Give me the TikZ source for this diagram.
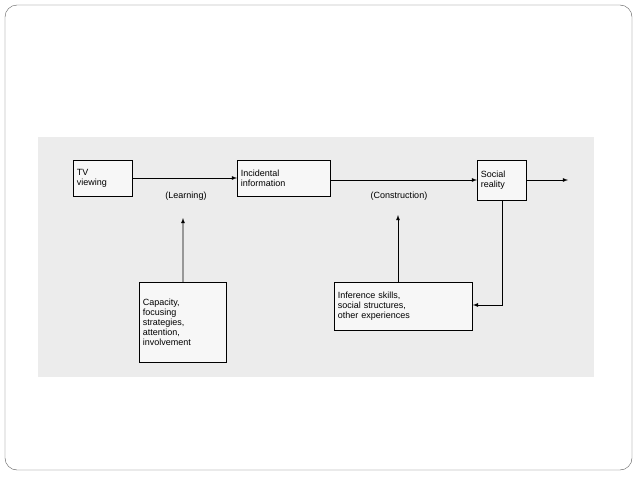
\documentclass[tikz,border=0pt]{standalone}
\usepackage{fontspec}
\setmainfont{Liberation Sans}
\usetikzlibrary{positioning}
\begin{document}
\begin{tikzpicture}[x=1pt,y=-1pt]
% Styles
\tikzstyle{fleche}=[->,>=latex,thick]
\tikzstyle{boite}=[draw,thick,fill=white!70!gray!20,align=left,font=\fontsize{9}{10}\selectfont,inner sep=3pt]
\tikzstyle{etiq}=[font=\fontsize{9}{10}\selectfont]
% Cadre
\useasboundingbox (0,0) rectangle (638,479);
\draw[rounded corners=12pt,gray!70!black] (5,5) rectangle (632,470);
\fill[gray!15] (38,137) rectangle (594,377);
% Noeuds
\node[boite,minimum width=59pt,minimum height=36pt,text width=52pt,anchor=north west] (tv) at (73,160) {TV\\viewing};
\node[boite,minimum width=93pt,minimum height=36pt,text width=86pt,anchor=north west] (inc) at (237,160) {Incidental\\information};
\node[boite,minimum width=49pt,minimum height=40pt,text width=42pt,anchor=north west] (soc) at (477,160) {Social\\reality};
\node[boite,minimum width=87pt,minimum height=80pt,text width=80pt,anchor=north west] (cap) at (139,282) {Capacity,\\focusing\\strategies,\\attention,\\involvement};
\node[boite,minimum width=138pt,minimum height=48pt,text width=131pt,anchor=north west] (inf) at (334,282) {Inference skills,\\social structures,\\other experiences};
\node[etiq] (learn) at (186,196) {(Learning)};
\node[etiq] (cons) at (399,196) {(Construction)};
\coordinate (fin) at (568,180);
\coordinate (coin) at (502,305);
% Arcs
\draw[fleche] (tv.east |- 0,178) -- (inc.west |- 0,178);
\draw[fleche] (inc.east |- 0,180) -- (soc.west |- 0,180);
\draw[fleche] (soc.east |- fin) -- (fin);
\draw[fleche] (cap.north) -- (183,218);
\draw[fleche] (inf.north -| 398,0) -- (398,215);
\draw[fleche] (soc.south -| coin) -- (coin) -- (inf.east |- coin);
\end{tikzpicture}
\end{document}
